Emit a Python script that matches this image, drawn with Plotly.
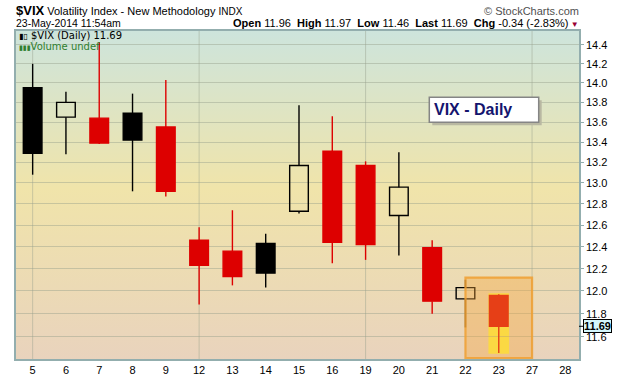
import base64
import math
import plotly.graph_objects as go

# ---------------- data ----------------
days = ['5', '6', '7', '8', '9', '12', '13', '14', '15', '16', '19', '20', '21', '22', '23', '27', '28']
traded_days = ['5', '6', '7', '8', '9', '12', '13', '14', '15', '16', '19', '20', '21', '22', '23']
opens = [13.95, 13.65, 13.64, 13.69, 13.55, 12.46, 12.36, 12.43, 12.73, 13.31, 13.17, 12.69, 12.39, 11.93, 11.96]
highs = [14.20, 13.91, 14.43, 13.89, 14.03, 12.58, 12.74, 12.52, 13.77, 13.66, 13.21, 13.30, 12.46, 12.10, 11.97]
lows = [13.08, 13.28, 13.38, 12.92, 12.87, 11.88, 12.05, 12.03, 12.71, 12.25, 12.28, 12.32, 11.80, 11.68, 11.46]
closes = [13.29, 13.80, 13.39, 13.42, 12.92, 12.23, 12.13, 12.16, 13.17, 12.44, 12.42, 12.96, 11.91, 12.03, 11.69]
prev_close = 12.91
y_ticks = [11.6, 11.8, 12.0, 12.2, 12.4, 12.6, 12.8, 13.0, 13.2, 13.4, 13.6, 13.8, 14.0, 14.2, 14.4]
week_starts = ['5', '12', '19', '27']
box_days = ['22', '27']
box_top = 12.12
y_range = [11.41, 14.55]

RED = '#dd0000'
BLACK = '#000000'

xi = [days.index(d) for d in traded_days]

# StockCharts colouring: black/red vs previous close, hollow/filled vs open
prevs = [prev_close] + closes[:-1]
cols = [BLACK if c >= p else RED for c, p in zip(closes, prevs)]
hollow = [c > o for o, c in zip(opens, closes)]
fills = ['rgba(0,0,0,0)' if h else col for h, col in zip(hollow, cols)]
body_lo = [min(o, c) for o, c in zip(opens, closes)]
body_hi = [max(o, c) for o, c in zip(opens, closes)]
body_h = [hi - lo for lo, hi in zip(body_lo, body_hi)]

fig = go.Figure()

# wicks
for colr in (BLACK, RED):
    wx, wy = [], []
    for i in range(len(traded_days)):
        if cols[i] != colr:
            continue
        wx += [xi[i], xi[i], None, xi[i], xi[i], None]
        wy += [body_hi[i], highs[i], None, lows[i], body_lo[i], None]
    fig.add_trace(go.Scatter(x=wx, y=wy, mode='lines', line=dict(color=colr, width=1.4),
                             hoverinfo='skip', showlegend=False))

# bodies
fig.add_trace(go.Bar(x=xi, y=body_h, base=body_lo, width=0.56,
                     marker=dict(color=fills, line=dict(color=cols, width=1.4)),
                     showlegend=False, hoverinfo='skip'))

# ---------------- background gradient ----------------
svg = ('<svg xmlns="http://www.w3.org/2000/svg" width="100" height="100" viewBox="0 0 100 100" '
       'preserveAspectRatio="none"><defs><linearGradient id="g" x1="0" y1="0" x2="0" y2="1">'
       '<stop offset="0" stop-color="#cde4dc"/>'
       '<stop offset="0.48" stop-color="#f0e4aa"/>'
       '<stop offset="1" stop-color="#e9d3bd"/>'
       '</linearGradient></defs><rect x="0" y="0" width="100" height="100" fill="url(#g)"/></svg>')
src = 'data:image/svg+xml;base64,' + base64.b64encode(svg.encode()).decode()

lg_lo, lg_hi = math.log10(y_range[0]), math.log10(y_range[1])

shapes = []
# vertical week gridlines
for d in week_starts:
    k = days.index(d)
    shapes.append(dict(type='line', xref='x', yref='paper', x0=k, x1=k, y0=0, y1=1,
                       line=dict(color='rgba(150,160,140,0.45)', width=1), layer='below'))

# yellow highlight behind last candle
last = len(traded_days) - 1
shapes.append(dict(type='rect', xref='x', yref='y', x0=xi[last] - 0.31, x1=xi[last] + 0.31,
                   y0=lows[last] - 0.005, y1=highs[last] + 0.01,
                   fillcolor='#fff848', line=dict(width=0), layer='below'))
# orange box
shapes.append(dict(type='rect', xref='x', yref='paper',
                   x0=days.index(box_days[0]), x1=days.index(box_days[1]),
                   y0=0.003, y1=(math.log10(box_top) - lg_lo) / (lg_hi - lg_lo),
                   fillcolor='rgba(245,165,60,0.38)', line=dict(color='rgba(240,160,50,0.85)', width=2.2),
                   layer='above'))

# VIX - Daily label box (paper coords)
W, H = 563.0, 328.0
bx0, bx1 = (429.3 - 16) / W, (538.7 - 16) / W
by0, by1 = (359 - 122.3) / H, (359 - 97.3) / H
shapes.append(dict(type='rect', xref='paper', yref='paper', x0=bx0 + 3 / W, x1=bx1 + 3 / W,
                   y0=by0 - 3 / H, y1=by1 - 3 / H, fillcolor='#b9b8a2', line=dict(width=0), layer='above'))
shapes.append(dict(type='rect', xref='paper', yref='paper', x0=bx0, x1=bx1, y0=by0, y1=by1,
                   fillcolor='white', line=dict(color='#858585', width=1.5), layer='above'))

annotations = [
    dict(xref='paper', yref='paper', x=bx0 + 3 / W, y=(by0 + by1) / 2, xanchor='left', yanchor='middle',
         text='<b>VIX - Daily</b>', showarrow=False,
         font=dict(family='Liberation Sans, Arial', size=16, color='#14146e')),
    dict(xref='paper', yref='paper', x=0, y=(359 - 10.5) / H, xanchor='left', yanchor='middle', xshift=-2,
         text="<span style='font-size:13px'><b>$VIX</b></span> Volatility Index - New Methodology "
              "<span style='font-size:10px'>INDX</span>",
         showarrow=False, font=dict(family='Liberation Sans, Arial', size=11, color='black')),
    dict(xref='paper', yref='paper', x=0, y=(359 - 23.5) / H, xanchor='left', yanchor='middle', xshift=-2,
         text='23-May-2014 11:54am', showarrow=False,
         font=dict(family='Liberation Sans, Arial', size=10.5, color='black')),
    dict(xref='paper', yref='paper', x=1, y=(359 - 10.5) / H, xanchor='right', yanchor='middle', xshift=2,
         text='© StockCharts.com', showarrow=False,
         font=dict(family='Liberation Sans, Arial', size=11, color='#505050')),
    dict(xref='paper', yref='paper', x=1, y=(359 - 23.5) / H, xanchor='right', yanchor='middle', xshift=2,
         text=(f'<b>Open</b> {opens[last]:.2f}  <b>High</b> {highs[last]:.2f}  <b>Low</b> {lows[last]:.2f}  '
               f'<b>Last</b> {closes[last]:.2f}  <b>Chg</b> {closes[last] - closes[last - 1]:.2f} '
               f'({(closes[last] - closes[last - 1]) / closes[last - 1] * 100:.2f}%)'
               "<span style='color:#990033;font-size:8px'> ▼</span>"),
         showarrow=False, font=dict(family='Liberation Sans, Arial', size=11, color='black')),
    dict(xref='paper', yref='paper', x=0, y=(359 - 35) / H, xanchor='left', yanchor='middle', xshift=1,
         text=f"<span style='font-size:8px'>▮▯</span> $VIX (Daily) {closes[last]:.2f}", showarrow=False,
         font=dict(family='DejaVu Sans', size=10, color='black')),
    dict(xref='paper', yref='paper', x=0, y=(359 - 46) / H, xanchor='left', yanchor='middle', xshift=1,
         text="<span style='font-size:7px'>▮▮▮</span>Volume undef", showarrow=False,
         font=dict(family='DejaVu Sans', size=10, color='#2f7f2f')),
    dict(xref='paper', yref='y', x=1, y=math.log10(closes[last]), ax=18, ay=0, axref='pixel', ayref='pixel',
         text=f'<b>{closes[last]:.2f}</b>', showarrow=True, arrowhead=0, arrowwidth=1, arrowcolor='black',
         bgcolor='#d4f6fc', bordercolor='black', borderwidth=1, borderpad=0,
         font=dict(family='Liberation Sans, Arial', size=11, color='black')),
]

fig.update_layout(
    width=620, height=376,
    margin=dict(l=16, r=41, t=31, b=17, autoexpand=False),
    paper_bgcolor='white',
    plot_bgcolor='rgba(0,0,0,0)',
    barmode='overlay',
    showlegend=False,
    images=[dict(source=src, xref='paper', yref='paper', x=0, y=1, sizex=1, sizey=1,
                 xanchor='left', yanchor='top', sizing='stretch', layer='below')],
    shapes=shapes,
    annotations=annotations,
    xaxis=dict(range=[-0.5, 16.41], tickmode='array', tickvals=list(range(len(days))), ticktext=days,
               showgrid=False, zeroline=False, ticks='', showline=True, linecolor='#93aeae', linewidth=1.5,
               mirror=True, automargin=False,
               tickfont=dict(family='Liberation Sans, Arial', size=11, color='black'),
               fixedrange=True),
    yaxis=dict(type='log', range=[lg_lo, lg_hi], side='right', automargin=False,
               tickmode='array', tickvals=y_ticks, ticktext=[f'{v:.1f}' for v in y_ticks],
               showgrid=True, gridcolor='rgba(150,160,140,0.45)', gridwidth=1, zeroline=False,
               ticks='outside', ticklen=3, tickcolor='#93aeae', showline=True, linecolor='#93aeae',
               linewidth=1.5, mirror=True,
               tickfont=dict(family='Liberation Sans, Arial', size=11, color='black'), fixedrange=True),
)

fig.write_html('out.html')
